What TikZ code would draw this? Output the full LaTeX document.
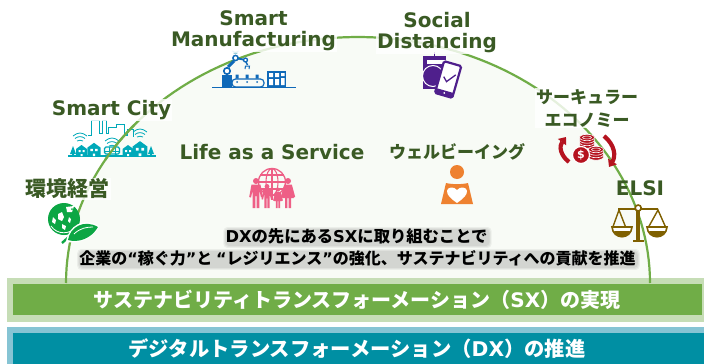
\documentclass[tikz,border=0pt]{standalone}
\usepackage{fontspec}
\setmainfont{Noto Sans CJK JP}
\newfontfamily\lat{DejaVu Sans}
\usetikzlibrary{arrows.meta}
\definecolor{lblgreen}{HTML}{3A5A24}
\definecolor{arcgreen}{HTML}{70AD47}
\definecolor{lightgreen}{HTML}{C6DDB6}
\definecolor{domefill}{HTML}{F8FBF6}
\definecolor{tealdark}{HTML}{008FA3}
\definecolor{teallight}{HTML}{86C4D4}
\definecolor{robotblue}{HTML}{0F69B8}
\definecolor{citycyan}{HTML}{00A9B9}
\definecolor{earthgreen}{HTML}{0CA644}
\definecolor{pinkc}{HTML}{EE5F86}
\definecolor{purplec}{HTML}{4F1F8C}
\definecolor{redc}{HTML}{B5131F}
\definecolor{brownc}{HTML}{7F6000}
\definecolor{orangec}{HTML}{EE8130}
\tikzset{
  x=1pt,y=-1pt,
  lbl/.style={text=lblgreen,font=\lat\bfseries\fontsize{20}{21}\selectfont,align=center,inner sep=1pt,fill=white,fill opacity=.82,text opacity=1},
  lbljp/.style={text=lblgreen,font=\bfseries\fontsize{17}{23}\selectfont,align=center,inner sep=1pt,fill=white,fill opacity=.82,text opacity=1},
  msg/.style={text=black,font=\bfseries\fontsize{16}{18}\selectfont,inner sep=0pt},
  softshade/.style={fill=black,fill opacity=.05,rounded corners=4},
  bartext/.style={text=white,font=\bfseries\fontsize{20}{22}\selectfont,inner sep=0pt},
  pics/wifi/.style={code={
    \draw[citycyan,line width=.8] (-7,-4) .. controls (-2,-8) and (2,-8) .. (7,-4);
    \draw[citycyan,line width=.8] (-5,-1.5) .. controls (-2,-4) and (2,-4) .. (5,-1.5);
    \draw[citycyan,line width=.8] (-3,1) .. controls (-1,0) and (1,0) .. (3,1);
  }},
  pics/house/.style={code={
    \fill[citycyan] (-5.5,0) -- (-5.5,-7) -- (0,-11) -- (5.5,-7) -- (5.5,0) -- cycle;
    \fill[white] (-3,-6) rectangle (-1,-4) (1,-6) rectangle (3,-4) (-1,-2) rectangle (1,0);
  }},
  pics/tree/.style={code={
    \fill[citycyan] (-3,-2) -- (0,-10) -- (3,-2) -- cycle;
    \fill[citycyan] (-.6,-2) rectangle (.6,0);
  }},
  pics/adult/.style={code={
    \fill[pinkc] (0,-27) circle (3);
    \fill[pinkc] (-4.5,-23.5) -- (4.5,-23.5) -- (6.8,-11) -- (5,-10.5) -- (3.3,-18) -- (3.3,0) -- (.6,0) -- (.6,-12) -- (-.6,-12) -- (-.6,0) -- (-3.3,0) -- (-3.3,-18) -- (-5,-10.5) -- (-6.8,-11) -- cycle;
  }},
  pics/dress/.style={code={
    \fill[pinkc] (0,-27) circle (3);
    \fill[pinkc] (-3.8,-23.5) -- (3.8,-23.5) -- (7.2,-11) -- (5.6,-10.5) -- (3.5,-17) -- (5.8,-10) -- (3,-10) -- (3,0) -- (.7,0) -- (.7,-10) -- (-.7,-10) -- (-.7,0) -- (-3,0) -- (-3,-10) -- (-5.8,-10) -- (-3.5,-17) -- (-5.6,-10.5) -- (-7.2,-11) -- cycle;
  }},
  pics/coinstack/.style={code={
    \foreach \yy in {7,4.5,2,-.5}{
      \draw[white,line width=.6,fill=redc] (0,\yy) ellipse (7.5 and 3.2);
    }
    \draw[white,line width=.5] (0,-.5) ellipse (4.5 and 1.5);
  }}
}
\begin{document}
\begin{tikzpicture}
\useasboundingbox (0,0) rectangle (704,364);
\fill[white] (0,0) rectangle (704,364);
% dome
\fill[domefill] plot[domain=0:180,samples=100] ({358+292*cos(\x)},{283-246*sin(\x)}) -- cycle;
% bars
\fill[lightgreen] (7,278) rectangle (704,322);
\fill[arcgreen] (13,284) rectangle (702,315);
\fill[teallight] (7,327) rectangle (704,364);
\fill[tealdark] (13,333) rectangle (704,364);
\draw[arcgreen,line width=2.2] plot[domain=0:180,samples=100] ({358+292*cos(\x)},{283-246*sin(\x)});
% robot icon
\fill[robotblue] (212,86.6) rectangle (296,88.4);
\fill[robotblue] (221.5,75) rectangle (232,87);
\draw[robotblue,line width=1.2,rounded corners=3.5] (232,79) rectangle (264,87);
\fill[robotblue] (235.5,74.5) rectangle (238.5,78.5) (245.5,74.5) rectangle (248.5,78.5) (255.5,74.5) rectangle (258.5,78.5);
\fill[robotblue] (237,82) circle (1) (247,82) circle (1) (257,82) circle (1);
\fill[robotblue] (267,71) rectangle (286,87);
\fill[white] (269,73) rectangle (273,77) (275,73) rectangle (279,77) (269,79) rectangle (273,85) (275,79) rectangle (279,85);
\fill[white] (281,73) rectangle (284.5,76) (281,78) rectangle (284.5,85);
\draw[robotblue,line width=3] (228,67) -- (234,61);
\draw[robotblue,line width=1.8] (238,58.5) -- (243,59.5);
\draw[robotblue,line width=1.5] (246,62) -- (247.5,65);
\draw[robotblue,line width=1] (245,69) -- (245.5,66) -- (249.5,66) -- (249,69);
\draw[robotblue,line width=1.6,fill=white] (227,71) circle (3.2);
\draw[robotblue,line width=1.5,fill=white] (235.5,58) circle (2.6);
\draw[robotblue,line width=1.3,fill=white] (245.5,60) circle (2);
\draw[teallight,line width=.7] (232,51) .. controls (234,52.5) and (237,52.5) .. (239,51);
\draw[teallight,line width=.7] (233.5,53) .. controls (234.5,54) and (236.5,54) .. (237.5,53);
% city icon
\draw[citycyan,line width=.8] (88,135) -- (91,135) -- (91,120) -- (99,120) -- (99,133) -- (102,133) -- (102,120) -- (106,120) -- (106,133) -- (108,133) -- (108,127) -- (116,127) -- (116,124) -- (124,124) -- (124,135) -- (127,135) -- (127,129) -- (133,129) -- (133,137);
\fill[citycyan] (68,155) rectangle (156,157);
\pic at (73,156) {tree};
\pic at (81.5,156) {house};
\pic[scale=1.2] at (94,156) {house};
\pic at (128,156) {house};
\pic[scale=1.35] at (140,156) {house};
\pic at (151,156) {tree};
\draw[citycyan,line width=1.2,rounded corners=1.5,fill=domefill] (104.5,147) rectangle (119.5,154);
\draw[citycyan,line width=.8] (109,147) -- (109,154) (115,147) -- (115,154) (104.5,151) -- (119.5,151);
\fill[citycyan] (108,155) circle (1.4) (116,155) circle (1.4);
\pic at (80,140) {wifi};
\pic at (112,145) {wifi};
\pic at (140,136) {wifi};
\draw[arcgreen,line width=2.2] plot[domain=140:150,samples=10] ({358+292*cos(\x)},{283-246*sin(\x)});
% earth icon
\fill[earthgreen] (64,219) circle (16);
\draw[white,line width=.8] (51,226) .. controls (57,235) and (70,235) .. (78,226);
\fill[white] (58,214) -- (62,212) -- (64,217) -- (62,221) -- (58,219) -- cycle;
\fill[white] (53,217) -- (56,220) -- (55,224) -- (52,222) -- cycle;
\fill[white] (62,224) -- (66,226) -- (65,230) -- (62,228) -- cycle;
\fill[white] (66,207) -- (74,206) -- (72,212) -- (67,212) -- cycle;
\fill[white] (69,217) -- (71,219) -- (70,223) -- (68,221) -- cycle;
\fill[earthgreen] (65.5,210) circle (1.2) (72,209) circle (1);
\draw[earthgreen,line width=2.4] (71,235) -- (62,243);
\fill[white] (66,242) .. controls (68,226) and (84,216) .. (99.5,226.5) .. controls (92,240) and (78,244) .. (66,242) -- cycle;
\fill[earthgreen] (68,240) .. controls (70,227) and (84,219) .. (98,227) .. controls (91,239) and (78,243) .. (68,240) -- cycle;
\draw[white,line width=.8] (74,234) .. controls (80,228) and (87,227) .. (93,227);
% life-as-a-service icon
\begin{scope}
\clip (250,165) rectangle (295,205);
\draw[pinkc,line width=1.3] (272,182) circle (13.5);
\draw[pinkc,line width=1.1] (272,182) ellipse (6 and 13.5);
\draw[pinkc,line width=1.1] (258.5,182) -- (285.5,182) (272,168.5) -- (272,200) (260,175) -- (284,175) (260,189) -- (284,189);
\end{scope}
\pic at (256,208) {adult};
\pic[scale=.8] at (267,208) {adult};
\pic[scale=.68] at (278,208) {dress};
\pic at (288,208) {dress};
% wellbeing icon
\fill[orangec] (457,172) circle (7);
\fill[orangec] (446,183) .. controls (452,184.5) and (462,184.5) .. (468,183) -- (473,204) -- (441,204) -- cycle;
\fill[white] (457,203) .. controls (450,198) and (447,195) .. (447,191) .. controls (447,187) and (454,186) .. (457,190) .. controls (460,186) and (467,187) .. (467,191) .. controls (467,195) and (464,198) .. (457,203) -- cycle;
% phone icon
\fill[purplec] (423,56) rectangle (446,89);
\fill[purplec] (433.6,52) rectangle (434.6,56);
\fill[white] (427,60) rectangle (446,63.5);
\draw[white,line width=1] (433,76) circle (10.5);
\begin{scope}[rotate around={-16:(448,80)}]
\draw[purplec,line width=2.2,fill=white,rounded corners=1.5] (439,63) rectangle (457,96);
\fill[purplec] (439,91) rectangle (457,96);
\fill[white] (448,93.5) circle (1);
\draw[purplec,line width=1.3] (443,78) -- (447,82) -- (454,73);
\end{scope}
% coins icon
\draw[redc,line width=4.2,-{Triangle[width=10,length=6.5]}] (569,162) .. controls (560,155) and (559,146) .. (566,137);
\draw[redc,line width=4.2,-{Triangle[width=10,length=6.5]}] (604,136) .. controls (615,145) and (616,156) .. (609,167);
\pic at (587,138) {coinstack};
\pic at (596,150) {coinstack};
\draw[white,line width=1.2,fill=redc] (581,155) circle (8.5);
\node[text=white,font=\lat\bfseries\fontsize{11}{11}\selectfont,inner sep=0pt] (dollar) at (581,155) {\$};
% scales icon
\draw[brownc,line width=1.8] (618,209) -- (658,209);
\fill[brownc] (636.4,209) rectangle (640,240);
\fill[brownc] (633,239.5) rectangle (644,242);
\draw[brownc,line width=1.4] (612.5,228) -- (619,210) -- (626,228);
\draw[brownc,line width=1.4] (648,228) -- (658,210) -- (666,228);
\draw[brownc,line width=1.6,fill=white] (612,227) -- (632,227) .. controls (631,240) and (613,240) .. (612,227) -- cycle;
\draw[brownc,line width=1.6,fill=white] (647,227) -- (667,227) .. controls (666,240) and (648,240) .. (647,227) -- cycle;
\fill[brownc] (614,231) .. controls (616,238) and (628,238) .. (630,231) -- cycle;
\fill[brownc] (649,231) .. controls (651,238) and (663,238) .. (665,231) -- cycle;
\draw[brownc,line width=1.6,fill=white] (638.2,208) circle (3);
% labels
\node[lbl] (manuf) at (253.5,30.5) {Smart\\Manufacturing};
\node[lbl] (city) at (111.5,110) {Smart City};
\node[lbl,fill=none] (life) at (272,152) {Life as a Service};
\node[lbl] (social) at (437,33) {Social\\Distancing};
\node[lbljp] (circ) at (587,108) {サーキュラー\\エコノミー};
\node[lbljp,fill=none] (well) at (457,152) {ウェルビーイング};
\node[lbljp,font=\bfseries\fontsize{21}{22}\selectfont] (kankyo) at (67.5,189) {環境経営};
\node[lbl,fill=none] (elsi) at (640,188) {ELSI};
\node[msg,font=\bfseries\fontsize{16.3}{18}\selectfont] (msga) at (356.5,236) {{\lat DX}の先にある{\lat SX}に取り組むことで};
\node[msg] (msgb) at (357.5,258) {企業の{\lat “}稼ぐ力{\lat ”}と {\lat “}レジリエンス{\lat ”}の強化、サステナビリティへの貢献を推進};
\foreach \s in {0,1,2}{
  \fill[softshade] ([shift={(-\s,{1-\s})}]msga.north west) rectangle ([shift={({2+\s},{2+\s})}]msga.south east);
  \fill[softshade] ([shift={(-\s,{1-\s})}]msgb.north west) rectangle ([shift={({2+\s},{2+\s})}]msgb.south east);
}
\node[bartext] (sx) at (357,300) {サステナビリティトランスフォーメーション（{\lat SX}）の実現};
\node[bartext,font=\bfseries\fontsize{20.3}{22}\selectfont] (dx) at (357,349) {デジタルトランスフォーメーション（{\lat DX}）の推進};
\end{tikzpicture}
\end{document}
